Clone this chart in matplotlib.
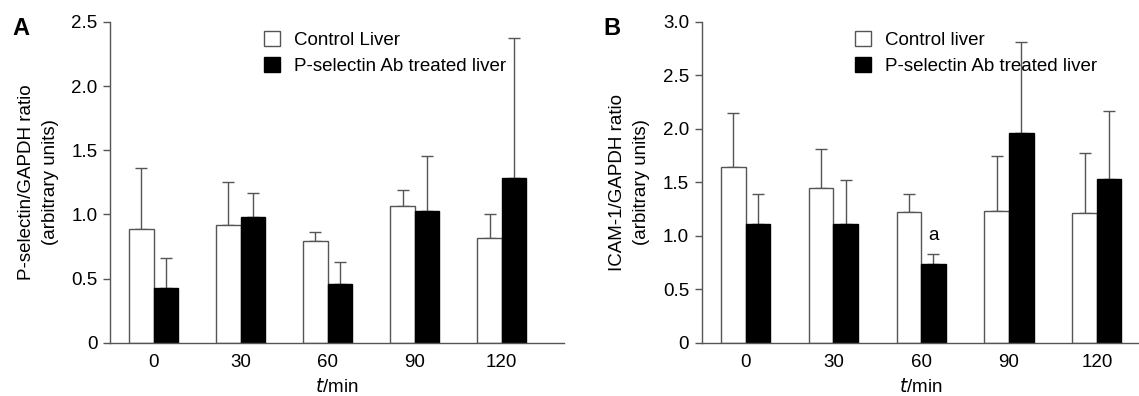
import numpy as np
import matplotlib.pyplot as plt
from matplotlib.patches import Patch

plt.rcParams['font.family'] = ['Liberation Sans', 'DejaVu Sans']
plt.rcParams['font.size'] = 13.5

times = ['0', '30', '60', '90', '120']

# Panel A: P-selectin/GAPDH
psel_ctrl = [0.89, 0.92, 0.79, 1.065, 0.815]
psel_ctrl_top = [1.36, 1.25, 0.865, 1.19, 1.005]
psel_ab = [0.425, 0.977, 0.457, 1.03, 1.286]
psel_ab_top = [0.66, 1.17, 0.63, 1.453, 2.375]

# Panel B: ICAM-1/GAPDH
icam_ctrl = [1.645, 1.445, 1.225, 1.236, 1.214]
icam_ctrl_top = [2.15, 1.81, 1.39, 1.75, 1.773]
icam_ab = [1.115, 1.115, 0.737, 1.957, 1.533]
icam_ab_top = [1.39, 1.524, 0.827, 2.81, 2.164]

edge = '#555555'
w = 0.28


def draw_panel(ax, ctrl, ctrl_top, ab, ab_top, ymax, yticks, ylabel, xright):
    x = np.arange(len(times))
    ctrl = np.array(ctrl)
    ab = np.array(ab)
    ctrl_err = np.array(ctrl_top) - ctrl
    ab_err = np.array(ab_top) - ab
    ax.bar(x - w / 2, ctrl, w, color='white', edgecolor=edge, linewidth=1.0, zorder=2)
    ax.bar(x + w / 2, ab, w, color='black', edgecolor='black', linewidth=1.0, zorder=2)
    ax.errorbar(x - w / 2, ctrl, yerr=[np.zeros_like(ctrl_err), ctrl_err], fmt='none',
                ecolor=edge, elinewidth=1.0, capsize=4, capthick=1.0, zorder=1)
    ax.errorbar(x + w / 2, ab, yerr=[np.zeros_like(ab_err), ab_err], fmt='none',
                ecolor=edge, elinewidth=1.0, capsize=4, capthick=1.0, zorder=1)
    ax.set_xlim(-0.5, xright)
    ax.set_ylim(0, ymax)
    ax.set_yticks(yticks)
    ax.set_yticklabels(['0' if v == 0 else f'{v:.1f}' for v in yticks])
    ax.set_xticks(x)
    ax.set_xticklabels(times)
    ax.tick_params(axis='x', length=0, pad=8)
    ax.tick_params(axis='y', length=5, width=1.0, color=edge, pad=4)
    for s in ['top', 'right']:
        ax.spines[s].set_visible(False)
    for s in ['left', 'bottom']:
        ax.spines[s].set_color(edge)
        ax.spines[s].set_linewidth(1.0)
    ax.set_ylabel(ylabel, labelpad=9, linespacing=1.55)
    ax.set_xlabel('$t$/min', labelpad=5)
    handles = [Patch(facecolor='white', edgecolor=edge, linewidth=1.0),
               Patch(facecolor='black', edgecolor='black')]
    return handles


fig = plt.figure(figsize=(11.39, 3.96), dpi=100)
axA = fig.add_axes([0.0966, 0.134, 0.399, 0.811])
axB = fig.add_axes([0.616, 0.134, 0.384, 0.811])

hA = draw_panel(axA, psel_ctrl, psel_ctrl_top, psel_ab, psel_ab_top, 2.5,
                [0, 0.5, 1.0, 1.5, 2.0, 2.5],
                'P-selectin/GAPDH ratio\n(arbitrary units)', 4.72)
axA.legend(hA, ['Control Liver', 'P-selectin Ab treated liver'], loc='upper left',
           bbox_to_anchor=(0.318, 1.0), frameon=False, handlelength=0.85,
           handleheight=0.85, handletextpad=0.75, labelspacing=0.4, borderpad=0)

hB = draw_panel(axB, icam_ctrl, icam_ctrl_top, icam_ab, icam_ab_top, 3.0,
                [0, 0.5, 1.0, 1.5, 2.0, 2.5, 3.0],
                'ICAM-1/GAPDH ratio\n(arbitrary units)', 4.48)
axB.legend(hB, ['Control liver', 'P-selectin Ab treated liver'], loc='upper left',
           bbox_to_anchor=(0.33, 1.0), frameon=False, handlelength=0.85,
           handleheight=0.85, handletextpad=0.75, labelspacing=0.4, borderpad=0)
axB.text(2 + w / 2, 1.0, 'a', ha='center', va='center')

fig.text(0.011, 0.912, 'A', fontsize=17, fontweight='bold')
fig.text(0.530, 0.912, 'B', fontsize=17, fontweight='bold')

fig.savefig('out.png', dpi=100)
